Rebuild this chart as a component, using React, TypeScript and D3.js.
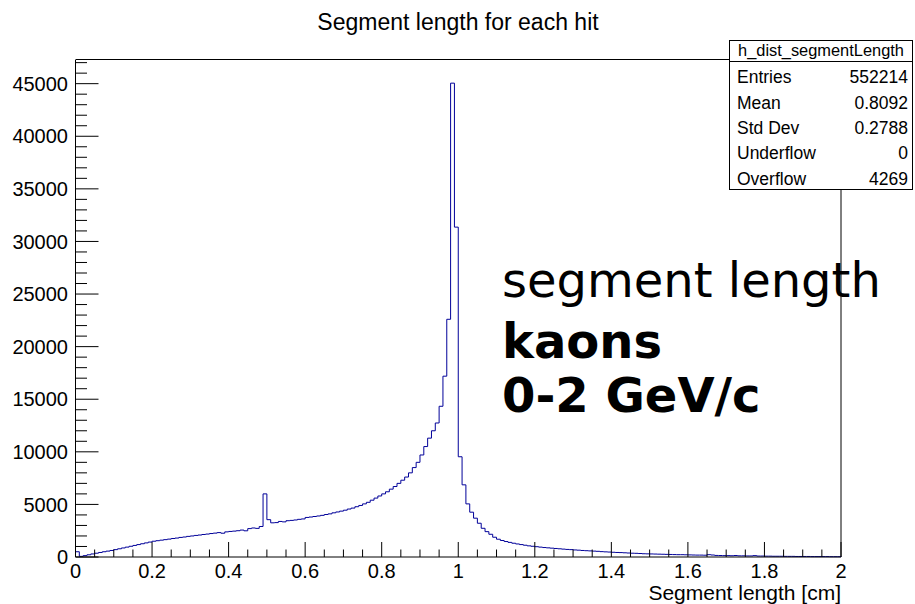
import React from "react";
import * as d3 from "d3";

const binEdgesMin = 0;
const binEdgesMax = 2;
const binCount = 200;

const counts: number[] = [
  // 0.00 - 0.49
  500, 60, 130, 210, 290, 360, 430, 500, 560, 620,
  700, 780, 860, 940, 1020, 1100, 1180, 1260, 1340, 1420,
  1500, 1550, 1600, 1650, 1700, 1760, 1800, 1860, 1900, 1960,
  2000, 2050, 2090, 2140, 2180, 2230, 2270, 2320, 2260, 2390,
  2430, 2460, 2500, 2560, 2490, 2700, 2760, 2720, 2900,
  // 0.49 - 0.98
  6000, 3550, 3250, 3270, 3380, 3340, 3450, 3480, 3520, 3580, 3620,
  3760, 3800, 3850, 3900, 3960, 4040, 4100, 4200, 4280, 4360,
  4450, 4560, 4650, 4780, 4900, 5050, 5200, 5400, 5600, 5800,
  6000, 6200, 6450, 6700, 7000, 7300, 7600, 8000, 8500, 9000,
  9700, 10500, 11300, 12000, 12740, 14330, 17190, 22600,
  // 0.98 - 1.50
  45050, 31360, 9530, 6860, 5050, 4260, 3690, 3210, 2730, 2410, 2160, 1880,
  1690, 1570, 1470, 1390, 1310, 1240, 1180, 1120, 1060, 1020,
  980, 940, 900, 870, 840, 810, 780, 750, 720, 700,
  670, 650, 620, 600, 580, 560, 540, 510, 490, 470,
  450, 430, 420, 400, 380, 360, 350, 330, 310, 300,
  // 1.50 - 2.00
  290, 280, 270, 260, 250, 240, 230, 220, 220, 210,
  200, 190, 180, 180, 170, 220, 190, 150, 140, 130,
  130, 120, 140, 110, 110, 100, 100, 130, 90, 90,
  80, 80, 70, 70, 70, 60, 60, 60, 50, 50,
  50, 50, 40, 40, 40, 40, 40, 30, 30, 30,
];

const yMajorTicks = [0, 5000, 10000, 15000, 20000, 25000, 30000, 35000, 40000, 45000];
const xMajorTicks = [0, 0.2, 0.4, 0.6, 0.8, 1, 1.2, 1.4, 1.6, 1.8, 2];

const statLabels = ["Entries", "Mean", "Std Dev", "Underflow", "Overflow"];
const statValues = ["552214", "0.8092", "0.2788", "0", "4269"];

const histName = "h_dist_segmentLength";
const titleText = "Segment length for each hit";
const xTitle = "Segment length [cm]";
const noteLines = ["segment length", "kaons", "0-2 GeV/c"];

const W = 915;
const H = 604;
const left = 75.5;
const right = 841;
const top = 60;
const bottom = 557;
const yMax = 47250;

export default function App() {
  const x = d3.scaleLinear().domain([binEdgesMin, binEdgesMax]).range([left, right]);
  const y = d3.scaleLinear().domain([0, yMax]).range([bottom, top]);
  const bw = (binEdgesMax - binEdgesMin) / binCount;

  let path = `M${x(0)},${y(0)}`;
  counts.forEach((c, i) => {
    const x1 = x(binEdgesMin + (i + 1) * bw);
    path += `V${y(c)}H${x1}`;
  });
  path += `V${y(0)}`;

  const yMinor = d3.range(0, yMax, 1000).filter((v) => v % 5000 !== 0);
  const xMinor = d3.range(0, 2.0001, 0.05).filter((v) => Math.abs(v / 0.2 - Math.round(v / 0.2)) > 1e-6);
  const fmt = d3.format("~g");
  const font = "'Liberation Sans', Arial, Helvetica, sans-serif";

  const boxL = 729.5;
  const boxR = 912.5;
  const boxT = 40.5;
  const boxB = 189.5;
  const sep = 61.5;
  const rowCenters = [77, 102.3, 127.6, 152.9, 178.2];

  return (
    <svg
      width={W}
      height={H}
      style={{ position: "absolute", left: 0, top: 0, background: "#fff" }}
      fontFamily={font}
    >
      <rect x={0} y={0} width={W} height={H} fill="#fff" />
      <text x={458} y={30} fontSize={23} textAnchor="middle" fill="#000">
        {titleText}
      </text>

      <line x1={left} x2={right} y1={top - 0.5} y2={top - 0.5} stroke="#000" strokeWidth={1} />
      <line x1={right} x2={right} y1={top} y2={bottom} stroke="#000" strokeWidth={1} />

      <path d={path} fill="none" stroke="#000099" strokeWidth={1} />

      <line x1={left} x2={right} y1={bottom} y2={bottom} stroke="#000" strokeWidth={1} />
      <line x1={left} x2={left} y1={top} y2={bottom} stroke="#000" strokeWidth={1} />

      {yMajorTicks.map((v) => (
        <g key={"ym" + v}>
          <line x1={left} x2={left + 23} y1={y(v)} y2={y(v)} stroke="#000" />
          <text x={68} y={y(v) + 7.2} fontSize={20} textAnchor="end">
            {v}
          </text>
        </g>
      ))}
      {yMinor.map((v) => (
        <line key={"yn" + v} x1={left} x2={left + 11.5} y1={y(v)} y2={y(v)} stroke="#000" />
      ))}
      {xMajorTicks.map((v) => (
        <g key={"xm" + v}>
          <line x1={x(v)} x2={x(v)} y1={bottom} y2={bottom - 15} stroke="#000" />
          <text x={x(v)} y={578} fontSize={20} textAnchor="middle">
            {fmt(v)}
          </text>
        </g>
      ))}
      {xMinor.map((v) => (
        <line key={"xn" + v} x1={x(v)} x2={x(v)} y1={bottom} y2={bottom - 7.5} stroke="#000" />
      ))}
      <text x={right} y={600} fontSize={21} textAnchor="end">
        {xTitle}
      </text>

      <rect x={boxL} y={boxT} width={boxR - boxL} height={boxB - boxT} fill="#fff" stroke="#000" strokeWidth={1} />
      <line x1={boxL} x2={boxR} y1={sep} y2={sep} stroke="#000" strokeWidth={1} />
      <text x={(boxL + boxR) / 2} y={56} fontSize={16.4} textAnchor="middle">
        {histName}
      </text>
      {statLabels.map((l, i) => (
        <g key={l}>
          <text x={737} y={rowCenters[i] + 6.3} fontSize={17.5}>
            {l}
          </text>
          <text x={908} y={rowCenters[i] + 6.3} fontSize={17.5} textAnchor="end">
            {statValues[i]}
          </text>
        </g>
      ))}

      <g fontFamily="'DejaVu Sans', sans-serif" fontSize={48} fill="#000">
        <text x={502} y={297}>{noteLines[0]}</text>
        <text x={502} y={358} fontWeight="bold">{noteLines[1]}</text>
        <text x={502} y={412} fontWeight="bold">{noteLines[2]}</text>
      </g>
    </svg>
  );
}
